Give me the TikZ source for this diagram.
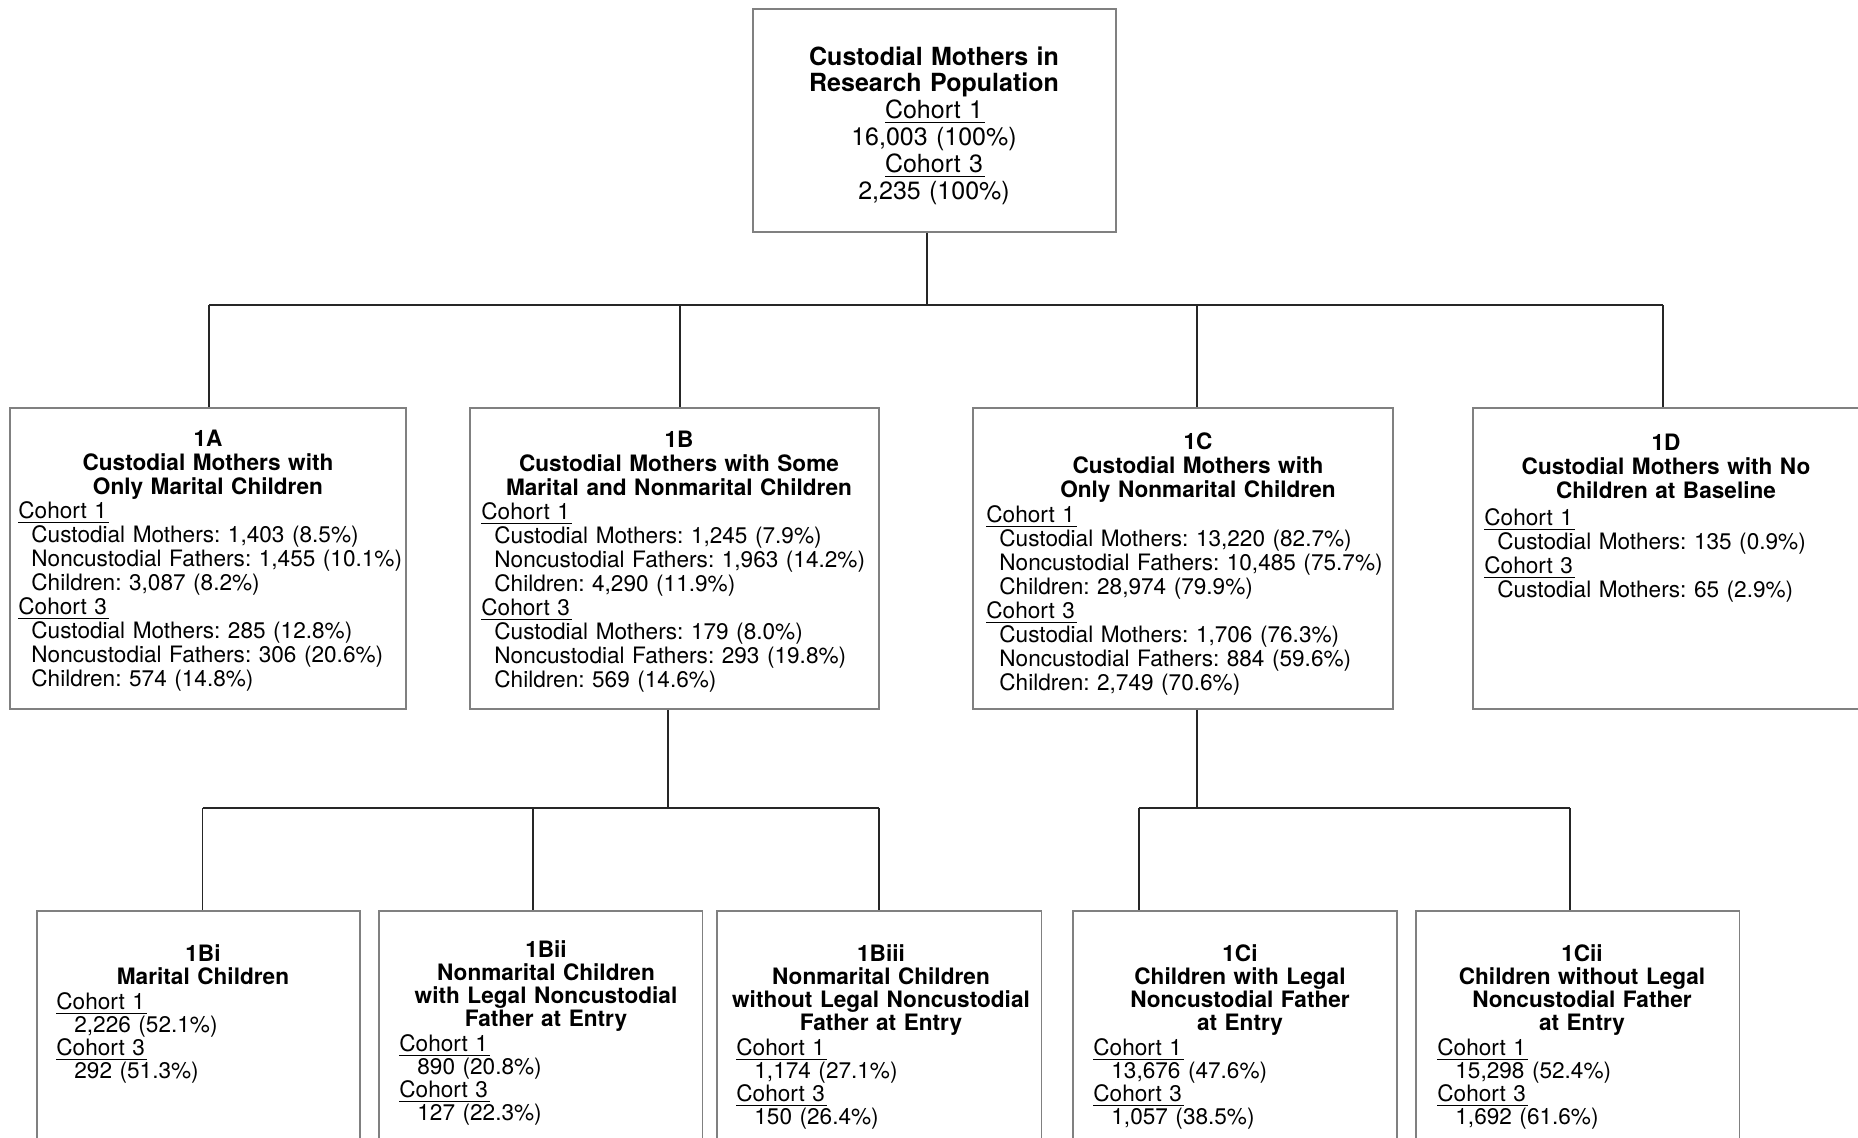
\documentclass[tikz,border=0pt]{standalone}
\usepackage{fontspec}
\setmainfont{TeX Gyre Heros}
\usetikzlibrary{fit}
\frenchspacing

\newcommand{\cohortgap}{\hspace*{6.5pt}}
\newcommand{\cohortgaplow}{\hspace*{9pt}}
\newcommand{\cohorthead}[1]{\leavevmode\setbox0\hbox{#1}\rlap{\rule[-2.4pt]{\dimexpr\wd0+1pt\relax}{0.65pt}}\box0}

\begin{document}
\begin{tikzpicture}[x = 0.5pt, y = -0.5pt,
	box/.style = {draw = black!50, line width = 0.75pt, inner sep = 0pt, rectangle},
	link/.style = {draw = black!85, line width = 0.7pt},
	titletext/.style = {font = \fontsize{11.3}{12}\selectfont\bfseries, align = center,
		text width = 200pt, anchor = base, inner sep = 0pt},
	cohorttext/.style = {font = \fontsize{11.3}{12}\selectfont, align = left,
		text width = 230pt, anchor = base west, inner sep = 0pt},
	titlelow/.style = {titletext, font = \fontsize{11.3}{11.6}\selectfont\bfseries},
	cohortlow/.style = {cohorttext, font = \fontsize{11.3}{11.6}\selectfont}]

	\useasboundingbox (0,0) rectangle (1858,1137);
	\clip (0,0) rectangle (1858,1137);

	% boxes
	\node[box, fit = {(753,9) (1116,232)}] (top) {};
	\node[box, fit = {(10,408) (406,709)}] (oneA) {};
	\node[box, fit = {(470,408) (879,709)}] (oneB) {};
	\node[box, fit = {(973,408) (1393,709)}] (oneC) {};
	\node[box, fit = {(1473,408) (1900,709)}] (oneD) {};
	\node[box, fit = {(37,911) (360,1200)}] (oneBi) {};
	\node[box, fit = {(379,911) (702.5,1200)}] (oneBii) {};
	\node[box, fit = {(717,911) (1041.5,1200)}] (oneBiii) {};
	\node[box, fit = {(1073,911) (1397,1200)}] (oneCi) {};
	\node[box, fit = {(1416,911) (1739.5,1200)}] (oneCii) {};

	% top box
	\node[titletext, font = \fontsize{12.5}{13.4}\selectfont] (topT) at (934,65)
		{\textbf{Custodial Mothers in}\\ \textbf{Research Population}\\
		 \cohorthead{Cohort 1}\\ 16,003 (100\%)\\ \cohorthead{Cohort 3}\\ 2,235 (100\%)};

	% second level
	\node[titletext] (oneAT) at (208,446) {1A\\ Custodial Mothers with\\ Only Marital Children};
	\node[cohorttext] (oneAC) at (18,518)
		{\cohorthead{Cohort 1}\\ \cohortgap Custodial Mothers: 1,403 (8.5\%)\\
		 \cohortgap Noncustodial Fathers: 1,455 (10.1\%)\\ \cohortgap Children: 3,087 (8.2\%)\\
		 \cohorthead{Cohort 3}\\ \cohortgap Custodial Mothers: 285 (12.8\%)\\
		 \cohortgap Noncustodial Fathers: 306 (20.6\%)\\ \cohortgap Children: 574 (14.8\%)};

	\node[titletext] (oneBT) at (679,447) {1B\\ Custodial Mothers with Some\\ Marital and Nonmarital Children};
	\node[cohorttext] (oneBC) at (481,519)
		{\cohorthead{Cohort 1}\\ \cohortgap Custodial Mothers: 1,245 (7.9\%)\\
		 \cohortgap Noncustodial Fathers: 1,963 (14.2\%)\\ \cohortgap Children: 4,290 (11.9\%)\\
		 \cohorthead{Cohort 3}\\ \cohortgap Custodial Mothers: 179 (8.0\%)\\
		 \cohortgap Noncustodial Fathers: 293 (19.8\%)\\ \cohortgap Children: 569 (14.6\%)};

	\node[titletext] (oneCT) at (1198,449) {1C\\ Custodial Mothers with\\ Only Nonmarital Children};
	\node[cohorttext] (oneCC) at (986,522)
		{\cohorthead{Cohort 1}\\ \cohortgap Custodial Mothers: 13,220 (82.7\%)\\
		 \cohortgap Noncustodial Fathers: 10,485 (75.7\%)\\ \cohortgap Children: 28,974 (79.9\%)\\
		 \cohorthead{Cohort 3}\\ \cohortgap Custodial Mothers: 1,706 (76.3\%)\\
		 \cohortgap Noncustodial Fathers: 884 (59.6\%)\\ \cohortgap Children: 2,749 (70.6\%)};

	\node[titletext] (oneDT) at (1666,450) {1D\\ Custodial Mothers with No\\ Children at Baseline};
	\node[cohorttext] (oneDC) at (1484,525)
		{\cohorthead{Cohort 1}\\ \cohortgap Custodial Mothers: 135 (0.9\%)\\
		 \cohorthead{Cohort 3}\\ \cohortgap Custodial Mothers: 65 (2.9\%)};

	% third level
	\node[titlelow] (oneBiT) at (203,961) {1Bi\\ Marital Children};
	\node[cohortlow] (oneBiC) at (56,1009)
		{\cohorthead{Cohort 1}\\ \cohortgaplow 2,226 (52.1\%)\\ \cohorthead{Cohort 3}\\ \cohortgaplow 292 (51.3\%)};

	\node[titlelow] (oneBiiT) at (546,957) {1Bii\\ Nonmarital Children\\ with Legal Noncustodial\\ Father at Entry};
	\node[cohortlow] (oneBiiC) at (399,1051)
		{\cohorthead{Cohort 1}\\ \cohortgaplow 890 (20.8\%)\\ \cohorthead{Cohort 3}\\ \cohortgaplow 127 (22.3\%)};

	\node[titlelow] (oneBiiiT) at (881,961) {1Biii\\ Nonmarital Children\\ without Legal Noncustodial\\ Father at Entry};
	\node[cohortlow] (oneBiiiC) at (736,1055)
		{\cohorthead{Cohort 1}\\ \cohortgaplow 1,174 (27.1\%)\\ \cohorthead{Cohort 3}\\ \cohortgaplow 150 (26.4\%)};

	\node[titlelow] (oneCiT) at (1240,961) {1Ci\\ Children with Legal\\ Noncustodial Father\\ at Entry};
	\node[cohortlow] (oneCiC) at (1093,1055)
		{\cohorthead{Cohort 1}\\ \cohortgaplow 13,676 (47.6\%)\\ \cohorthead{Cohort 3}\\ \cohortgaplow 1,057 (38.5\%)};

	\node[titlelow] (oneCiiT) at (1582,961) {1Cii\\ Children without Legal\\ Noncustodial Father\\ at Entry};
	\node[cohortlow] (oneCiiC) at (1437,1055)
		{\cohorthead{Cohort 1}\\ \cohortgaplow 15,298 (52.4\%)\\ \cohorthead{Cohort 3}\\ \cohortgaplow 1,692 (61.6\%)};

	% connectors
	\coordinate (j0) at (927,305);
	\coordinate (jA) at (209,305);
	\coordinate (jB) at (680,305);
	\coordinate (jC) at (1197,305);
	\coordinate (jD) at (1663,305);
	\coordinate (k0) at (668,808);
	\coordinate (kBi) at (202.5,808);
	\coordinate (kBii) at (533,808);
	\coordinate (kBiii) at (879,808);
	\coordinate (m0) at (1197,808);
	\coordinate (mCi) at (1139,808);
	\coordinate (mCii) at (1570,808);

	\draw[link] (top.south -| j0) -- (j0);
	\draw[link] (jA) -- (jD);
	\foreach \j/\b in {jA/oneA, jB/oneB, jC/oneC, jD/oneD}
		\draw[link] (\j) -- (\j |- \b.north);

	\draw[link] (oneB.south -| k0) -- (k0);
	\draw[link] (kBi) -- (kBiii);
	\foreach \j/\b in {kBi/oneBi, kBii/oneBii, kBiii/oneBiii}
		\draw[link] (\j) -- (\j |- \b.north);

	\draw[link] (oneC.south -| m0) -- (m0);
	\draw[link] (mCi) -- (mCii);
	\foreach \j/\b in {mCi/oneCi, mCii/oneCii}
		\draw[link] (\j) -- (\j |- \b.north);
\end{tikzpicture}
\end{document}
